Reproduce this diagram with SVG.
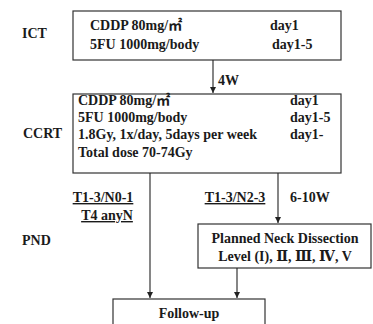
<svg xmlns="http://www.w3.org/2000/svg" width="373" height="324" viewBox="0 0 373 324">
  <defs>
    <marker id="arrow" viewBox="0 0 6 8" refX="6" refY="4" markerWidth="6" markerHeight="8" markerUnits="userSpaceOnUse" orient="auto">
      <path d="M0,1 L6,4 L0,7 Z" fill="#222"/>
    </marker>
  </defs>
  <style>
    text { font-family: 'Liberation Serif', 'DejaVu Serif', serif; font-weight: bold; font-size: 14px; fill: #1a1a1a; }
    .cjk { font-family: 'Liberation Serif', 'Noto Sans CJK JP', serif; }
    .box { fill: #fff; stroke: #333; stroke-width: 1.2; }
    .link { fill: none; stroke: #222; stroke-width: 1.1; }
    .u { text-decoration: underline; }
    .c { text-anchor: middle; }
  </style>
  <rect width="373" height="324" fill="#fff"/>

  <!-- phase labels -->
  <g id="phase-labels">
    <text x="22" y="38">ICT</text>
    <text x="23" y="138">CCRT</text>
    <text x="22" y="245">PND</text>
  </g>

  <!-- induction chemotherapy -->
  <g id="ict">
    <rect class="box" x="73" y="11" width="268" height="49"/>
    <text x="90" y="30">CDDP 80mg/<tspan class="cjk">㎡</tspan></text>
    <text x="270" y="30">day1</text>
    <text x="90" y="49">5FU 1000mg/body</text>
    <text x="272" y="49">day1-5</text>
  </g>

  <!-- concurrent chemoradiotherapy -->
  <g id="ccrt">
    <rect class="box" x="73" y="94" width="268" height="79"/>
    <text x="78" y="105">CDDP 80mg/<tspan class="cjk">㎡</tspan></text>
    <text x="290" y="105">day1</text>
    <text x="78" y="122">5FU 1000mg/body</text>
    <text x="290" y="122">day1-5</text>
    <text x="78" y="139">1.8Gy, 1x/day, 5days per week</text>
    <text x="290" y="139">day1-</text>
    <text x="78" y="157">Total dose 70-74Gy</text>
  </g>

  <!-- planned neck dissection -->
  <g id="pnd">
    <rect class="box" x="198" y="224" width="173" height="44"/>
    <text class="c" x="285" y="243">Planned Neck Dissection</text>
    <text class="c" x="285" y="261">Level (I), Ⅱ, Ⅲ, Ⅳ, V</text>
  </g>

  <!-- follow-up -->
  <g id="follow-up">
    <rect class="box" x="113" y="299" width="152" height="30"/>
    <text class="c" x="189" y="318">Follow-up</text>
  </g>

  <!-- connectors and their labels -->
  <g id="connectors">
    <line class="link" x1="213" y1="60" x2="213" y2="93" marker-end="url(#arrow)"/>
    <text x="218" y="85">4W</text>

    <line class="link" x1="150" y1="173" x2="150" y2="298" marker-end="url(#arrow)"/>
    <text class="c u" x="103" y="202">T1-3/N0-1</text>
    <text class="c u" x="107" y="220">T4 anyN</text>

    <line class="link" x1="278" y1="173" x2="278" y2="223" marker-end="url(#arrow)"/>
    <text class="c u" x="235" y="202">T1-3/N2-3</text>
    <text x="290" y="202">6-10W</text>

    <line class="link" x1="237" y1="268" x2="237" y2="298" marker-end="url(#arrow)"/>
  </g>
</svg>
